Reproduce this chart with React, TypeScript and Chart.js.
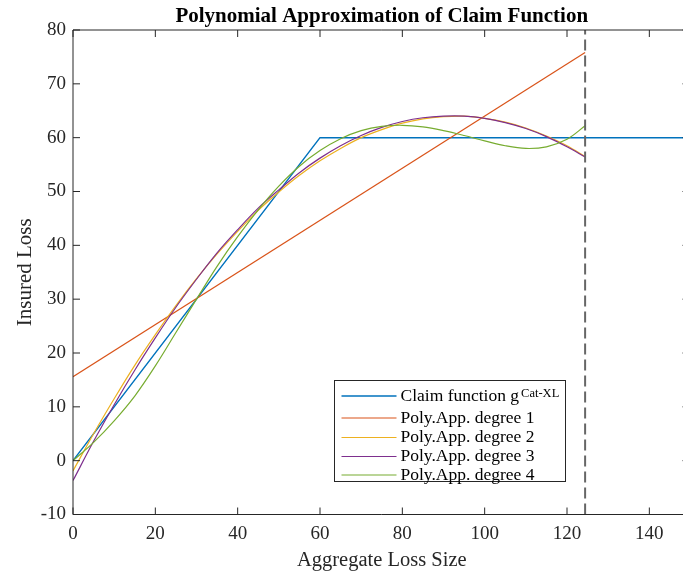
import React, { useEffect, useRef } from "react";
import { Chart, registerables } from "chart.js";

Chart.register(...registerables);

// ---------- text ----------
const TITLE = "Polynomial Approximation of Claim Function";
const X_TITLE = "Aggregate Loss Size";
const Y_TITLE = "Insured Loss";
const SERIES_LABELS = [
  "Claim function g",
  "Poly.App. degree 1",
  "Poly.App. degree 2",
  "Poly.App. degree 3",
  "Poly.App. degree 4",
];
const CLAIM_SUPERSCRIPT = "Cat-XL";
const COLORS = ["#0072BD", "#D95319", "#EDB120", "#7E2F8E", "#77AC30"];

// ---------- axes ----------
const X_MIN = 0;
const X_MAX = 150;
const X_STEP = 20;
const X_TICKS = [0, 20, 40, 60, 80, 100, 120, 140];
const Y_MIN = -10;
const Y_MAX = 80;
const Y_STEP = 10;

// ---------- data ----------
const claimX = [0, 60, 150];
const claimY = [0, 60, 60];

const deg1X = [0, 124.4];
const deg1Y = [15.6, 75.8];

const polyX = [0, 5, 10, 15, 20, 25, 30, 35, 40, 45, 50, 55, 60, 65, 70, 75, 80, 85, 90, 95, 100, 105, 110, 115, 120, 124.4];
const deg2Y = [-1.9, 5.0, 11.5, 17.7, 23.4, 28.8, 33.8, 38.4, 42.6, 46.5, 49.9, 53.0, 55.7, 58.0, 60.0, 61.5, 62.7, 63.5, 63.9, 64.0, 63.6, 62.9, 61.8, 60.3, 58.5, 56.5];
const deg3Y = [-3.7, 3.6, 10.4, 16.8, 22.8, 28.5, 33.7, 38.6, 42.9, 46.9, 50.3, 53.5, 56.2, 58.5, 60.4, 61.9, 63.0, 63.7, 64.0, 64.0, 63.6, 62.8, 61.7, 60.2, 58.3, 56.4];
const deg4Y = [0.0, 3.4, 7.4, 12.0, 17.6, 23.8, 30.0, 36.1, 41.6, 46.6, 51.0, 54.7, 57.6, 59.8, 61.3, 62.1, 62.3, 62.0, 61.3, 60.4, 59.4, 58.5, 58.0, 58.3, 59.7, 62.2];

const cutoffX = [124.4, 124.4];
const cutoffY = [Y_MIN, Y_MAX];

// ---------- layout ----------
const CANVAS_W = 720;
const CANVAS_H = 576;
const AREA_LEFT = 73;
const AREA_TOP = 30;
const AREA_BOTTOM = 514.5;
const AREA_RIGHT = 690.5;
const SERIF = '"Liberation Serif", "Times New Roman", Times, serif';
const INK = "#262626";

const toPoints = (xs: number[], ys: number[]) => xs.map((x, i) => ({ x, y: ys[i] }));

const framePlugin = {
  id: "matlabFrame",
  afterDraw(chart: any) {
    const ctx: CanvasRenderingContext2D = chart.ctx;
    const { left, right, top, bottom } = chart.chartArea;
    const xs = chart.scales.x;
    const ys = chart.scales.y;
    ctx.save();
    // box
    ctx.strokeStyle = INK;
    ctx.lineWidth = 1;
    ctx.beginPath();
    ctx.rect(left, top, right - left, bottom - top);
    ctx.stroke();
    // inward ticks
    const tl = 7;
    ctx.beginPath();
    for (const t of xs.ticks) {
      const p = xs.getPixelForValue(t.value);
      ctx.moveTo(p, bottom);
      ctx.lineTo(p, bottom - tl);
      ctx.moveTo(p, top);
      ctx.lineTo(p, top + tl);
    }
    for (const t of ys.ticks) {
      const p = ys.getPixelForValue(t.value);
      ctx.moveTo(left, p);
      ctx.lineTo(left + tl, p);
      ctx.moveTo(right, p);
      ctx.lineTo(right - tl - 1, p);
    }
    ctx.stroke();

    // title
    ctx.fillStyle = "#000";
    ctx.font = `bold 21px ${SERIF}`;
    ctx.textAlign = "center";
    ctx.textBaseline = "alphabetic";
    ctx.fillText(TITLE, (left + right) / 2, 22);

    // x title
    ctx.fillStyle = INK;
    ctx.font = `20.5px ${SERIF}`;
    ctx.fillText(X_TITLE, (left + right) / 2, 566);

    // y title
    ctx.save();
    ctx.translate(31, (top + bottom) / 2);
    ctx.rotate(-Math.PI / 2);
    ctx.font = `21px ${SERIF}`;
    ctx.textAlign = "center";
    ctx.fillText(Y_TITLE, 0, 0);
    ctx.restore();

    // legend
    const lx = 334.5, ly = 380.5, lw = 231, lh = 101;
    ctx.fillStyle = "#fff";
    ctx.fillRect(lx, ly, lw, lh);
    ctx.strokeStyle = INK;
    ctx.lineWidth = 1;
    ctx.strokeRect(lx, ly, lw, lh);
    const rows = [396, 418, 437.5, 456.5, 475];
    ctx.textAlign = "left";
    ctx.textBaseline = "middle";
    SERIES_LABELS.forEach((label, i) => {
      const y = rows[i];
      ctx.strokeStyle = COLORS[i];
      ctx.lineWidth = i === 0 ? 1.5 : 1.2;
      ctx.beginPath();
      ctx.moveTo(341.5, y);
      ctx.lineTo(396.5, y);
      ctx.stroke();
      ctx.fillStyle = "#000";
      ctx.font = `17.5px ${SERIF}`;
      ctx.fillText(label, 400.5, y);
      if (i === 0) {
        const w = ctx.measureText(label).width;
        ctx.font = `12.5px ${SERIF}`;
        ctx.textBaseline = "alphabetic";
        ctx.fillText(CLAIM_SUPERSCRIPT, 400.5 + w + 2, y + 0.5);
        ctx.textBaseline = "middle";
      }
    });
    ctx.restore();
  },
};

export default function App() {
  const ref = useRef<HTMLCanvasElement | null>(null);

  useEffect(() => {
    if (!ref.current) return;
    const lineBase = { showLine: true, pointRadius: 0, pointHoverRadius: 0, fill: false };
    const chart = new Chart(ref.current, {
      type: "scatter",
      data: {
        datasets: [
          { ...lineBase, label: SERIES_LABELS[0], data: toPoints(claimX, claimY), borderColor: COLORS[0], borderWidth: 1.5, tension: 0, order: 6 },
          { ...lineBase, label: SERIES_LABELS[1], data: toPoints(deg1X, deg1Y), borderColor: COLORS[1], borderWidth: 1.2, tension: 0, order: 5 },
          { ...lineBase, label: SERIES_LABELS[2], data: toPoints(polyX, deg2Y), borderColor: COLORS[2], borderWidth: 1.2, tension: 0.35, order: 4 },
          { ...lineBase, label: SERIES_LABELS[3], data: toPoints(polyX, deg3Y), borderColor: COLORS[3], borderWidth: 1.2, tension: 0.35, order: 3 },
          { ...lineBase, label: SERIES_LABELS[4], data: toPoints(polyX, deg4Y), borderColor: COLORS[4], borderWidth: 1.2, tension: 0.35, order: 2 },
          { ...lineBase, label: "cutoff", data: toPoints(cutoffX, cutoffY), borderColor: "#666666", borderWidth: 2, borderDash: [11, 5], tension: 0, order: 1 },
        ] as any,
      },
      options: {
        animation: false,
        responsive: false,
        devicePixelRatio: 1,
        events: [],
        layout: { padding: { left: 0, top: AREA_TOP, right: CANVAS_W - AREA_RIGHT, bottom: 0 } },
        plugins: {
          legend: { display: false },
          title: { display: false },
          tooltip: { enabled: false },
        },
        scales: {
          x: {
            type: "linear",
            min: X_MIN,
            max: X_MAX,
            bounds: "data",
            grid: { display: false, drawTicks: false },
            border: { display: false },
            ticks: {
              stepSize: X_STEP,
              includeBounds: false,
              autoSkip: false,
              maxRotation: 0,
              padding: 8,
              color: INK,
              font: { family: SERIF, size: 19 },
            },
            afterBuildTicks: (s: any) => {
              s.ticks = X_TICKS.map((v) => ({ value: v }));
            },
            afterFit: (s: any) => {
              s.height = CANVAS_H - AREA_BOTTOM;
            },
          },
          y: {
            type: "linear",
            min: Y_MIN,
            max: Y_MAX,
            bounds: "data",
            grid: { display: false, drawTicks: false },
            border: { display: false },
            ticks: {
              stepSize: Y_STEP,
              autoSkip: false,
              padding: 7,
              color: INK,
              font: { family: SERIF, size: 19 },
            },
            afterFit: (s: any) => {
              s.width = AREA_LEFT;
            },
          },
        },
      } as any,
      plugins: [framePlugin],
    });
    return () => chart.destroy();
  }, []);

  return (
    <div style={{ position: "absolute", left: 0, top: 0, width: 683, height: 576, overflow: "hidden", background: "#fff" }}>
      <canvas ref={ref} width={CANVAS_W} height={CANVAS_H} style={{ display: "block", width: CANVAS_W, height: CANVAS_H }} />
    </div>
  );
}
